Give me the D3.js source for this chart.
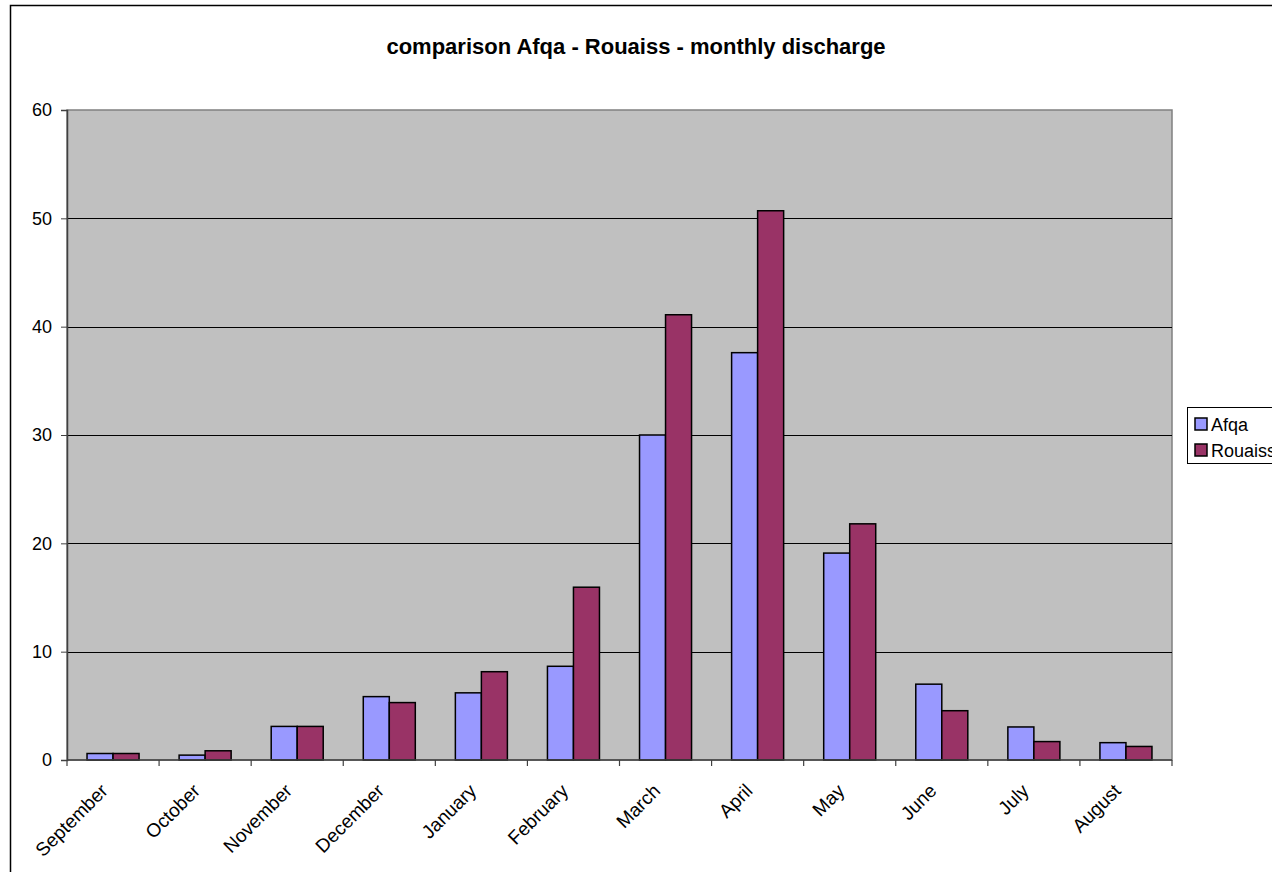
<!DOCTYPE html>
<html>
<head>
<meta charset="utf-8">
<script src="https://cdn.jsdelivr.net/npm/d3@7"></script>
<style>
  body { margin: 0; background: #fff; overflow: hidden; }
  text { font-family: "Liberation Sans", Arial, sans-serif; }
</style>
</head>
<body>
<svg width="1272" height="872"></svg>
<script>
var months = ["September", "October", "November", "December", "January", "February",
              "March", "April", "May", "June", "July", "August"];
var afqa    = [0.6, 0.45, 3.1, 5.85, 6.2, 8.65, 30.0, 37.6, 19.1, 7.0, 3.05, 1.6];
var rouaiss = [0.6, 0.85, 3.1, 5.3, 8.15, 15.95, 41.1, 50.7, 21.8, 4.55, 1.7, 1.25];
var seriesNames = ["Afqa", "Rouaiss"];
var seriesColors = ["#9999FF", "#993366"];
var yTicks = [0, 10, 20, 30, 40, 50, 60];

var svg = d3.select("svg");

// chart outer border (runs off right and bottom like the original)
svg.append("rect")
    .attr("x", 10.5).attr("y", 5.5)
    .attr("width", 1300).attr("height", 900)
    .attr("fill", "#fff")
    .attr("stroke", "#000")
    .attr("stroke-width", 1.5);

svg.append("text")
    .attr("x", 636).attr("y", 54)
    .attr("text-anchor", "middle")
    .attr("font-size", "22px")
    .attr("font-weight", "bold")
    .text("comparison Afqa - Rouaiss - monthly discharge");

var plotLeft = 67, plotRight = 1172, plotTop = 110, plotBottom = 760;

var x = d3.scaleBand().domain(months).range([plotLeft, plotRight]);
var y = d3.scaleLinear().domain([0, 60]).range([plotBottom, plotTop]);

// plot area
svg.append("rect")
    .attr("x", plotLeft).attr("y", plotTop)
    .attr("width", plotRight - plotLeft).attr("height", plotBottom - plotTop)
    .attr("fill", "#C0C0C0")
    .attr("stroke", "#808080")
    .attr("stroke-width", 1.5);

// gridlines
svg.append("g")
    .selectAll("line")
    .data(yTicks.filter(d => d > 0 && d < 60))
    .join("line")
    .attr("x1", plotLeft).attr("x2", plotRight)
    .attr("y1", d => Math.round(y(d)) + 0.5)
    .attr("y2", d => Math.round(y(d)) + 0.5)
    .attr("stroke", "#000")
    .attr("stroke-width", 1);

// y axis
var yAxis = svg.append("g")
    .attr("transform", `translate(${plotLeft},0)`)
    .call(d3.axisLeft(y).tickValues(yTicks).tickSize(6).tickPadding(9));
yAxis.select(".domain").attr("stroke", "#404040").attr("stroke-width", 1.5);
yAxis.selectAll(".tick line").attr("stroke", "#404040");
yAxis.selectAll("text")
    .attr("font-size", "18px")
    .attr("font-family", "Liberation Sans, Arial, sans-serif")
    .attr("fill", "#000");

// bars
var groups = months.map((m, i) => ({ month: m, values: [afqa[i], rouaiss[i]] }));
var inner = d3.scaleBand().domain([0, 1]).range([0, x.bandwidth()]).paddingOuter(0.77).paddingInner(0);

svg.append("g")
    .selectAll("g")
    .data(groups)
    .join("g")
    .attr("transform", d => `translate(${x(d.month)},0)`)
    .selectAll("rect")
    .data(d => d.values)
    .join("rect")
    .attr("x", (d, i) => inner(i))
    .attr("width", inner.bandwidth())
    .attr("y", d => y(d))
    .attr("height", d => y(0) - y(d))
    .attr("fill", (d, i) => seriesColors[i])
    .attr("stroke", "#000")
    .attr("stroke-width", 1.5);

// x axis
var xAxis = svg.append("g")
    .attr("transform", `translate(0,${plotBottom})`);
xAxis.append("line")
    .attr("x1", plotLeft).attr("x2", plotRight)
    .attr("y1", 0).attr("y2", 0)
    .attr("stroke", "#404040").attr("stroke-width", 1.5);
xAxis.selectAll(".tk")
    .data(months.concat(["end"]))
    .join("line")
    .attr("class", "tk")
    .attr("x1", (d, i) => plotLeft + i * x.bandwidth())
    .attr("x2", (d, i) => plotLeft + i * x.bandwidth())
    .attr("y1", 0).attr("y2", 6)
    .attr("stroke", "#404040").attr("stroke-width", 1.2);
xAxis.selectAll(".lbl")
    .data(months)
    .join("text")
    .attr("class", "lbl")
    .attr("text-anchor", "end")
    .attr("font-size", "19px")
    .attr("transform", d => `translate(${x(d) + x.bandwidth() / 2 - 4},${32}) rotate(-45)`)
    .text(d => d);

// legend
var legend = svg.append("g").attr("transform", "translate(1187,407)");
legend.append("rect")
    .attr("x", 0.5).attr("y", 0.5)
    .attr("width", 120).attr("height", 56)
    .attr("fill", "#fff")
    .attr("stroke", "#000");
seriesNames.forEach((name, i) => {
    var row = legend.append("g").attr("transform", `translate(0,${10 + i * 26})`);
    row.append("rect")
        .attr("x", 8).attr("y", 1)
        .attr("width", 12).attr("height", 12)
        .attr("fill", seriesColors[i])
        .attr("stroke", "#000")
        .attr("stroke-width", 1.5);
    row.append("text")
        .attr("x", 24).attr("y", 14)
        .attr("font-size", "18px")
        .text(name);
});
</script>
</body>
</html>
